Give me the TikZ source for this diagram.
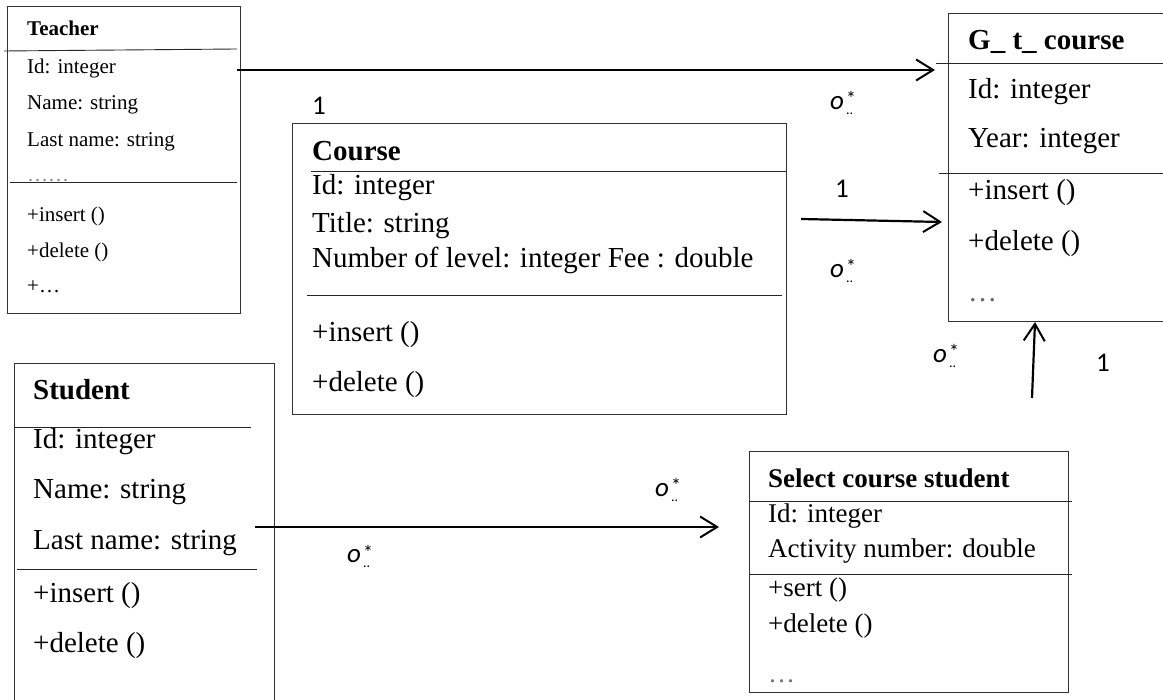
\documentclass[tikz,border=0pt]{standalone}
\usepackage{fontspec}
\setmainfont{Liberation Serif}
\newfontfamily\calib{Carlito}
\usetikzlibrary{calc,arrows.meta}

% multiplicity mark: italic o with a starred superscript and dotted subscript
\newcommand\omult{{\calib\itshape o}\kern2pt\makebox[0pt][l]{\raisebox{4pt}{\calib\fontsize{20}{20}\selectfont *}}\raisebox{-5pt}{\calib\fontsize{14}{14}\selectfont ..}}

\tikzset{
  umlbox/.style={draw=black!80, line width=0.9pt, anchor=north west, inner sep=0pt, outer sep=0pt},
  sepline/.style={draw=black!85, line width=0.9pt},
  assoc/.style={line width=2.2pt, -{Straight Barb[length=17pt,width=21pt,line width=2pt]}},
  txt/.style={anchor=base west, inner sep=0pt, font=\fontsize{29}{29}\selectfont},
  smalltxt/.style={anchor=base west, inner sep=0pt, font=\fontsize{21}{21}\selectfont},
  midtxt/.style={anchor=base west, inner sep=0pt, font=\fontsize{27}{27}\selectfont},
  mult/.style={anchor=base west, inner sep=0pt, font=\calib\fontsize{27}{27}\selectfont},
  one/.style={anchor=base, inner sep=0pt, font=\calib\fontsize{27}{27}\selectfont}
}

\begin{document}
\begin{tikzpicture}[x=1pt,y=-1pt]
\useasboundingbox (0,0) rectangle (1163,700);
\clip (0,0) rectangle (1163,700);

% ---- class boxes ----
\node[umlbox, minimum width=233pt, minimum height=307pt] (teacher) at (7,6) {};
\node[umlbox, minimum width=494pt, minimum height=291pt] (course) at (292,123) {};
\node[umlbox, minimum width=240pt, minimum height=308pt] (gtc) at (948,13) {};
\node[umlbox, minimum width=260pt, minimum height=360pt] (student) at (14,363) {};
\node[umlbox, minimum width=319pt, minimum height=241pt] (select) at (749,451) {};

% ---- compartment separators ----
\draw[sepline] ($(teacher.north west)+(-3,45)$) -- ($(teacher.north west)+(230,43)$);
\draw[sepline] ($(teacher.north west)+(3,176)$) -- ($(teacher.north west)+(230,176)$);
\draw[sepline] ($(course.north west)+(19,48)$) -- ($(course.north east)+(0,48)$);
\draw[sepline] ($(course.north west)+(15,172)$) -- ($(course.north east)+(-4,172)$);
\draw[sepline] ($(gtc.north west)+(-12,50)$) -- ($(gtc.north east)+(0,50)$);
\draw[sepline] ($(gtc.north west)+(-9,160)$) -- ($(gtc.north east)+(0,160)$);
\draw[sepline] ($(student.north west)+(0,64)$) -- ($(student.north west)+(237,64)$);
\draw[sepline] ($(student.north west)+(3,206)$) -- ($(student.north west)+(243,206)$);
\draw[sepline] ($(select.north west)+(0,50)$) -- ($(select.north east)+(4,50)$);
\draw[sepline] ($(select.north west)+(0,123)$) -- ($(select.north east)+(4,123)$);

% ---- Teacher ----
\node[smalltxt, font=\fontsize{21}{21}\selectfont\bfseries] (tT) at (27,36) {Teacher};
\node[smalltxt] (tA1) at (27,74) {Id: integer};
\node[smalltxt] (tA2) at (27,110) {Name: string};
\node[smalltxt] (tA3) at (27,147) {Last name: string};
\node[smalltxt, text=black!45] (tA4) at (27,182) {\ldots\ldots};
\node[smalltxt] (tM1) at (27,222) {+insert ()};
\node[smalltxt] (tM2) at (27,258) {+delete ()};
\node[smalltxt] (tM3) at (27,293) {+\ldots};

% ---- Course ----
\node[txt, font=\fontsize{29}{29}\selectfont\bfseries] (cT) at (312,161) {Course};
\node[txt] (cA1) at (312,195) {Id: integer};
\node[txt] (cA2) at (312,233) {Title: string};
\node[txt] (cA3) at (312,268) {Number of level: integer Fee : double};
\node[txt] (cM1) at (312,342) {+insert ()};
\node[txt] (cM2) at (312,392) {+delete ()};

% ---- G_ t_ course ----
\node[txt, font=\fontsize{29}{29}\selectfont\bfseries] (gT) at (968,50) {G\_ t\_ course};
\node[txt] (gA1) at (968,99) {Id: integer};
\node[txt] (gA2) at (968,148) {Year: integer};
\node[txt] (gM1) at (968,200) {+insert ()};
\node[txt] (gM2) at (968,251) {+delete ()};
\node[txt, text=black!60] (gM3) at (968,302) {\ldots};

% ---- Student ----
\node[txt, font=\fontsize{29}{29}\selectfont\bfseries] (sT) at (33,400) {Student};
\node[txt] (sA1) at (33,449) {Id: integer};
\node[txt] (sA2) at (33,499) {Name: string};
\node[txt] (sA3) at (33,550) {Last name: string};
\node[txt] (sM1) at (33,602) {+insert ()};
\node[txt] (sM2) at (33,652) {+delete ()};

% ---- Select course student ----
\node[midtxt, font=\fontsize{27}{27}\selectfont\bfseries] (xT) at (768,488) {Select course student};
\node[midtxt] (xA1) at (768,523) {Id: integer};
\node[midtxt] (xA2) at (768,558) {Activity number: double};
\node[midtxt] (xM1) at (768,597) {+sert ()};
\node[midtxt] (xM2) at (768,632) {+delete ()};
\node[midtxt, text=black!55] (xM3) at (768,682) {\ldots};

% ---- associations ----
\draw[assoc] ($(teacher.north east)+(-3,64)$) -- ($(gtc.north west)+(-13,57)$);
\draw[assoc] ($(course.north east)+(15,96)$) -- ($(gtc.north west)+(-6,209)$);
\coordinate (upfoot) at (1032,398);
\draw[assoc] (upfoot) -- ($(gtc.south west)+(87,1)$);
\draw[assoc] ($(student.north east)+(-19,164)$) -- ($(select.north west)+(-30,76)$);

% ---- multiplicities ----
\node[one] (n1) at (319,115) {1};
\node[one] (n2) at (842,198) {1};
\node[one] (n3) at (1103,372) {1};
\node[mult] (m1) at (830,110) {\omult};
\node[mult] (m2) at (830,278) {\omult};
\node[mult] (m3) at (933,363) {\omult};
\node[mult] (m4) at (655,497) {\omult};
\node[mult] (m5) at (347,563) {\omult};
\end{tikzpicture}
\end{document}
